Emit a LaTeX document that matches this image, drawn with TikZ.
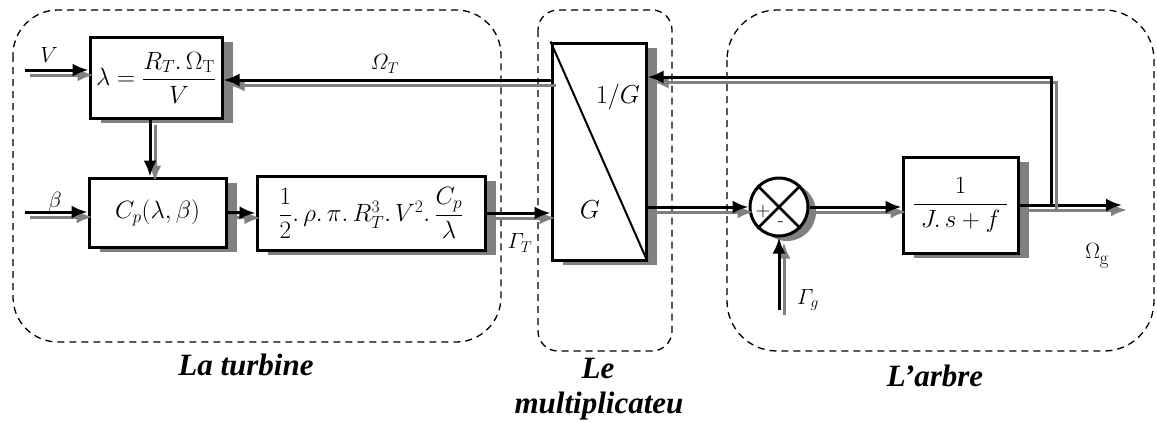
\RequirePackage{fix-cm}
\documentclass[tikz,border=0pt]{standalone}
\usepackage{amsmath}
\usepackage{fontspec}
\newfontfamily\tnr{Liberation Serif}
\usetikzlibrary{arrows.meta,shadows}
\definecolor{sg}{HTML}{808080}
\tikzset{
  blk/.style={draw, line width=3pt, fill=white, inner sep=0pt,
    font=\fontsize{25}{30}\selectfont,
    drop shadow={shadow xshift=11pt, shadow yshift=-5pt, fill=sg, opacity=1}},
  sigb/.style={line width=3pt, -{Latex[length=16pt,width=13pt]}},
  sigg/.style={draw=sg, line width=3pt, -{Latex[length=16pt,width=13pt]}},
  grp/.style={dash pattern=on 7pt off 5pt, line width=1.3pt},
  ttl/.style={font=\tnr\bfseries\itshape\fontsize{31}{36}\selectfont, inner sep=0pt, anchor=base},
  lbl/.style={font=\fontsize{22}{26}\selectfont, inner sep=0pt},
  mth/.style={font=\fontsize{26}{30}\selectfont, inner sep=0pt},
}
\newcommand{\sigconn}[2][]{%
  \begin{scope}[transform canvas={xshift=5pt,yshift=-5pt}]\draw[sigg,#1] #2;\end{scope}%
  \draw[sigb,#1] #2;}
\begin{document}
\begin{tikzpicture}[x=1pt,y=-1pt]
\useasboundingbox (0,0) rectangle (1157,421);
% groups
\draw[grp, rounded corners=45pt] (13,10) rectangle (501,342);
\draw[grp, rounded corners=20pt] (538,10) rectangle (672,351);
\draw[grp, rounded corners=50pt] (727,10) rectangle (1154,351);
% blocks
\node[blk, minimum width=132pt, minimum height=81pt] (lam) at (156,77.5)
  {$\lambda=\dfrac{R_T.\,\Omega_{\mathrm{T}}}{V}$};
\node[blk, minimum width=137pt, minimum height=69pt] (cp) at (157.5,212.5)
  {$C_p(\lambda,\beta)$};
\node[blk, minimum width=228pt, minimum height=74pt] (pw) at (371,213)
  {$\dfrac{1}{2}.\,\rho.\,\pi.\,R_T^3.\,V^2.\,\dfrac{C_p}{\lambda}$};
\node[blk, minimum width=94pt, minimum height=217pt] (mult) at (599,151.5) {};
\draw[line width=2pt] (mult.north west) -- (mult.south east);
\node[mth] (inv) at (618,97) {$1/G$};
\node[mth] (gg) at (590,210) {$G$};
\node[draw, circle, line width=3pt, minimum size=58pt, fill=white, inner sep=0pt,
  drop shadow={shadow xshift=8pt, shadow yshift=-5pt, fill=sg, opacity=1}] (sum) at (779,207) {};
\draw[line width=2.5pt] (sum.north west) -- (sum.south east) (sum.north east) -- (sum.south west);
\node[font=\fontsize{20}{22}\selectfont, inner sep=0pt] (plus) at (763,212) {+};
\node[font=\fontsize{20}{22}\selectfont, inner sep=0pt] (minus) at (781,224) {-};
\node[blk, minimum width=115pt, minimum height=96pt] (tf) at (960.5,205)
  {$\dfrac{1}{\;J.\,s+f\;}$};
% coordinates
\coordinate (vin) at (25,70);
\coordinate (bin) at (25,212);
\coordinate (omT) at (0,80);
\coordinate (vx) at (150,0);
\coordinate (br) at (1051,205);
\coordinate (fb) at (1051,77);
\coordinate (out) at (1122,205);
\coordinate (gin) at (779,310);
% connectors
\sigconn{(vin) -- (vin -| lam.west)}
\sigconn{(vx |- lam.south) -- (vx |- cp.north)}
\sigconn{(bin) -- (bin -| cp.west)}
\sigconn{(cp.east) -- (pw.west)}
\sigconn{(pw.east) -- (pw.east -| mult.west)}
\sigconn{(mult.west |- omT) -- (lam.east |- omT)}
\sigconn{(sum.west -| mult.east) -- (sum.west)}
\sigconn{(sum.east) -- (sum.east -| tf.west)}
\sigconn{(tf.east) -- (out)}
\sigconn{(br) -- (fb) -- (fb -| mult.east)}
\sigconn{(gin) -- (sum.south)}
% labels
\node[lbl] (lV) at (49,55) {$V$};
\node[lbl] (lb) at (55,202) {$\beta$};
\node[lbl] (lO) at (385,64) {$\varOmega_T$};
\node[lbl] (lGT) at (520,243) {$\varGamma_T$};
\node[lbl] (lGg) at (808,300) {$\varGamma_g$};
\node[lbl] (lOg) at (1097,256) {$\Omega$\raisebox{-0.3em}{\fontsize{19}{20}\selectfont g}};
% titles
\node[ttl] (t1) at (246,375) {La turbine};
\node[ttl] (t2) at (598,378) {Le};
\node[ttl] (t3) at (599,413) {multiplicateu};
\node[ttl] (t4) at (935,386) {L’arbre};
\end{tikzpicture}
\end{document}
